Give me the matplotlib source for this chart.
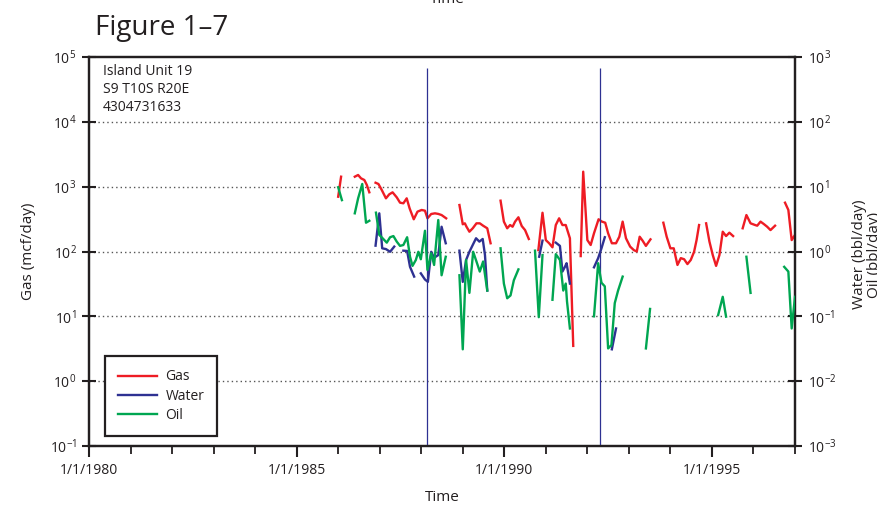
import numpy as np
import matplotlib
matplotlib.use('Agg')
import matplotlib.pyplot as plt
from matplotlib.lines import Line2D
from matplotlib.ticker import FixedLocator, FuncFormatter, NullFormatter

plt.rcParams['font.family'] = ['Open Sans', 'DejaVu Sans']
plt.rcParams['mathtext.fontset'] = 'custom'
plt.rcParams['mathtext.rm'] = 'Open Sans'
plt.rcParams['mathtext.it'] = 'Open Sans:italic'
plt.rcParams['mathtext.bf'] = 'Open Sans:bold'

nan = float('nan')

# ---------------- data (decimal years, rates) ----------------
gas_years = [1986.00, 1986.07, nan,
             1986.40, 1986.48, 1986.55, 1986.63, 1986.69, 1986.75, nan,
             1986.90, 1986.97, 1987.05, 1987.15, 1987.23, 1987.31, 1987.41, 1987.49, 1987.57, 1987.65,
             1987.72, 1987.82, 1987.91, 1988.01, 1988.09, 1988.15, 1988.24, 1988.33, 1988.41, 1988.49, 1988.60, nan,
             1988.92, 1989.00, 1989.05, 1989.09, 1989.16, 1989.24, 1989.33, 1989.41, 1989.49, 1989.59, 1989.67, nan,
             1989.91, 1989.99, 1990.07, 1990.14, 1990.20, 1990.26, 1990.34, 1990.42, 1990.50, 1990.59, nan,
             1990.82, 1990.92, 1991.00, 1991.08, 1991.16, 1991.24, 1991.32, 1991.40, 1991.48, 1991.58, 1991.66, nan,
             1991.84, 1991.90, 1992.00, 1992.08, 1992.16, 1992.27, 1992.35, 1992.43, 1992.50, 1992.59, 1992.69,
             1992.77, 1992.85, 1992.93, 1993.03, 1993.12, 1993.19, 1993.26, 1993.33, 1993.41, 1993.52, nan,
             1993.83, 1993.91, 1994.00, 1994.08, 1994.17, 1994.25, 1994.33, 1994.41, 1994.49, 1994.57, 1994.63, 1994.69, nan,
             1994.86, 1994.94, 1995.02, 1995.10, 1995.18, 1995.26, 1995.34, 1995.42, 1995.51, nan,
             1995.74, 1995.83, 1995.93, 1996.04, 1996.09, 1996.17, 1996.25, 1996.33, 1996.41, 1996.52, nan,
             1996.76, 1996.84, 1996.92, 1997.00]
gas_values = [700, 1425, nan,
              1425, 1514, 1345, 1267, 1061, 819, nan,
              1150, 1099, 888, 661, 762, 818, 685, 566, 554, 661,
              463, 314, 412, 437, 426, 325, 379, 388, 380, 365, 325, nan,
              521, 263, 272, 241, 202, 228, 272, 272, 250, 228, 134, nan,
              608, 289, 228, 256, 241, 289, 337, 247, 214, 156, nan,
              105, 396, 150, 134, 116, 256, 325, 256, 256, 160, 3.5, nan,
              85, 1703, 150, 126, 191, 314, 289, 278, 191, 134, 134,
              169, 289, 160, 119, 105, 100, 169, 147, 122, 154, nan,
              278, 169, 112, 112, 62, 79, 76, 64, 74, 99, 150, 256, nan,
              272, 142, 88, 60, 88, 202, 173, 195, 173, nan,
              228, 365, 272, 256, 250, 289, 265, 241, 214, 250, nan,
              566, 437, 150, 180]

water_years = [1986.90, 1986.99, 1987.06, 1987.15, 1987.25, 1987.35, nan,
               1987.57, 1987.66, 1987.73, 1987.83, nan,
               1987.99, 1988.09, 1988.16, 1988.24, 1988.31, 1988.41, 1988.49, 1988.59, nan,
               1988.92, 1989.00, 1989.08, 1989.16, 1989.24, 1989.32, 1989.40, 1989.48, 1989.535, 1989.59, nan,
               1990.84, 1990.92, nan,
               1991.24, 1991.34, 1991.40, 1991.46, 1991.50, 1991.58, nan,
               1992.16, 1992.26, 1992.34, 1992.42, nan,
               1992.59, 1992.69]
water_values = [1.23, 3.88, 1.12, 1.09, 0.99, 1.19, nan,
                1.03, 1.02, 0.58, 0.41, nan,
                0.46, 0.37, 0.34, 0.99, 0.80, 0.88, 2.41, 1.34, nan,
                1.03, 0.34, 0.74, 0.99, 1.26, 1.60, 1.42, 1.56, 0.88, 0.25, nan,
                0.83, 1.47, nan,
                1.37, 1.22, 0.49, 0.58, 0.66, 0.32, nan,
                0.57, 0.79, 1.12, 1.66, nan,
                0.031, 0.065]

oil_years = [1986.00, 1986.09, nan,
             1986.40, 1986.48, 1986.58, 1986.67, 1986.75, nan,
             1986.91, 1986.99, 1987.07, 1987.17, 1987.25, 1987.33, 1987.41, 1987.49, 1987.57, 1987.66,
             1987.73, 1987.79, 1987.87, 1987.93, 1987.99, 1988.09, 1988.15, 1988.24, 1988.31, 1988.41,
             1988.49, 1988.59, nan,
             1988.92, 1989.00, 1989.08, 1989.16, 1989.25, 1989.33, 1989.41, 1989.49, 1989.59, nan,
             1989.91, 1989.99, 1990.07, 1990.15, 1990.23, 1990.34, nan,
             1990.74, 1990.83, 1990.92, nan,
             1991.16, 1991.24, 1991.34, 1991.42, 1991.48, 1991.51, 1991.58, nan,
             1992.16, 1992.26, 1992.34, 1992.42, 1992.50, 1992.58, 1992.66, 1992.74, 1992.85, nan,
             1993.41, 1993.51, nan,
             1995.15, 1995.26, 1995.34, nan,
             1995.83, 1995.93, nan,
             1996.74, 1996.84, 1996.92, 1997.00]
oil_values = [9.8, 6.2, nan,
              3.88, 6.6, 11.0, 2.78, 2.98, nan,
              3.97, 1.80, 1.60, 1.37, 1.66, 1.73, 1.42, 1.22, 1.26, 1.66,
              0.83, 0.60, 0.74, 0.99, 0.76, 2.09, 0.52, 0.94, 0.62, 3.06,
              0.43, 0.83, nan,
              0.43, 0.031, 0.74, 0.23, 0.99, 0.70, 0.49, 0.70, 0.25, nan,
              1.12, 0.32, 0.19, 0.21, 0.36, 0.53, nan,
              1.03, 0.097, 0.88, nan,
              0.18, 0.91, 0.74, 0.25, 0.32, 0.17, 0.065, nan,
              0.10, 0.66, 0.33, 0.29, 0.032, 0.036, 0.16, 0.25, 0.41, nan,
              0.032, 0.13, nan,
              0.105, 0.20, 0.099, nan,
              0.83, 0.23, nan,
              0.58, 0.49, 0.065, 0.20]

event_years = [1988.14, 1992.30]
event_top = 6.76e4

major_years = [1980, 1985, 1990, 1995]
major_labels = ['1/1/1980', '1/1/1985', '1/1/1990', '1/1/1995']
minor_years = list(range(1980, 1998))

left_decades = [1e-1, 1e0, 1e1, 1e2, 1e3, 1e4, 1e5]
right_decades = [1e-3, 1e-2, 1e-1, 1e0, 1e1, 1e2, 1e3]

# ---------------- styling ----------------
RED = '#ee1c24'
BLUE = '#2e3192'
GREEN = '#00a651'
INK = '#231f20'
LW = 1.7

fig = plt.figure(figsize=(8.77, 5.09), dpi=100)
ax = fig.add_axes([89/877, 63/509, 706/877, 389/509])
ax2 = ax.twinx()

ax.set_xlim(1980, 1997)
ax.set_yscale('log')
ax.set_ylim(1e-1, 1e5)
ax2.set_yscale('log')
ax2.set_ylim(1e-3, 1e3)

# grid
for v in left_decades[1:-1]:
    ax.axhline(v, color='#555555', lw=1.0, ls=(0, (1, 2.2)), zorder=0)

ax.plot(gas_years, gas_values, color=RED, lw=LW, zorder=3)
ax2.plot(water_years, water_values, color=BLUE, lw=LW, zorder=3)
ax2.plot(oil_years, oil_values, color=GREEN, lw=LW, zorder=3)
ax.vlines(event_years, 1e-1, event_top, color=BLUE, lw=0.9, zorder=4)

def sup(v, pos):
    e = int(round(np.log10(v)))
    return r'$\mathregular{10^{%d}}$' % e

for a, dec in ((ax, left_decades), (ax2, right_decades)):
    a.yaxis.set_major_locator(FixedLocator(dec))
    a.yaxis.set_major_formatter(FuncFormatter(sup))
    a.yaxis.set_minor_locator(FixedLocator([]))
    a.yaxis.set_minor_formatter(NullFormatter())
    a.tick_params(axis='y', which='major', direction='inout', length=10, width=1.5,
                  color=INK, labelsize=10, labelcolor=INK, pad=4)
    for s in a.spines.values():
        s.set_linewidth(1.6)
        s.set_color(INK)

ax.set_xticks(major_years)
ax.set_xticklabels(major_labels)
ax.xaxis.set_minor_locator(FixedLocator(minor_years))
ax.tick_params(axis='x', which='major', direction='out', length=8, width=1.5,
               color=INK, labelsize=10, labelcolor=INK, pad=4)
ax.tick_params(axis='x', which='minor', direction='out', length=6, width=1.3, color=INK)

ax.set_xlabel('Time', fontsize=11, color=INK, labelpad=9)
ax.set_ylabel('Gas (mcf/day)', fontsize=11, color=INK, labelpad=10)
fig.text(867/877, 0.5, 'Water (bbl/day)\nOil (bbl/day)', rotation=90, ha='center', va='center',
         multialignment='center', fontsize=11, color=INK, linespacing=1.0)

ax.text(0.02, 0.982, 'Island Unit 19\nS9 T10S R20E\n4304731633', transform=ax.transAxes,
        ha='left', va='top', fontsize=10, color=INK, linespacing=1.25)

fig.text(95/877, 1 - 28/509, 'Figure 1\u20137', fontsize=20, color=INK, ha='left', va='center')
fig.text(447/877, 1 - 3/509, 'Time', fontsize=11, color=INK, ha='center', va='baseline')

handles = [Line2D([], [], color=RED, lw=LW),
           Line2D([], [], color=BLUE, lw=LW),
           Line2D([], [], color=GREEN, lw=LW)]
leg = ax2.legend(handles, ['Gas', 'Water', 'Oil'], loc='lower left',
                 bbox_to_anchor=(16/706, 10/389), borderaxespad=0, fancybox=False,
                 edgecolor=INK, framealpha=1, fontsize=10, handlelength=2.8,
                 handletextpad=0.6, labelspacing=0.3, borderpad=0.95)
leg.get_frame().set_linewidth(1.6)
for t in leg.get_texts():
    t.set_color(INK)

fig.savefig('out.png', dpi=100)
